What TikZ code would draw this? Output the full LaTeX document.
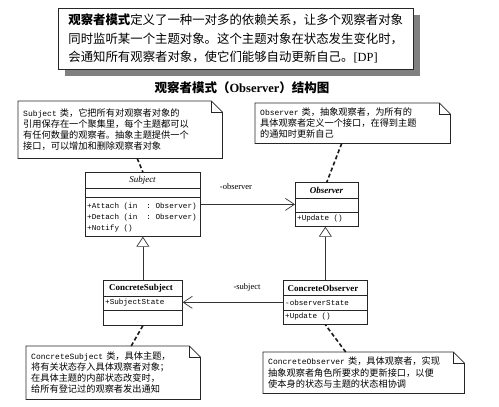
\documentclass[tikz,border=0pt]{standalone}
\usepackage{fontspec}
\setmainfont{Liberation Serif}
\setmonofont{Liberation Mono}
\newfontfamily\cjk{Noto Sans CJK SC}
\usetikzlibrary{arrows.meta}
\newcommand\drawnote[1]{%
  \draw[frame] (#1.north west) -- ([xshift=-11pt]#1.north east) -- ([yshift=-11pt]#1.north east) -- (#1.south east) -- (#1.south west) -- cycle;
  \draw[frame] ([xshift=-11pt]#1.north east) |- ([yshift=-11pt]#1.north east);}
\begin{document}
\begin{tikzpicture}[x=1pt,y=-1pt,
  frame/.style={draw=black!85, line width=0.7pt},
  classbox/.style={frame, anchor=north west, inner sep=0pt},
  notetext/.style={anchor=north west, align=left, inner xsep=5pt, inner ysep=0pt,
     font=\cjk\fontsize{9.2}{11.2}\selectfont},
  member/.style={anchor=west, inner sep=0pt, font=\ttfamily\fontsize{7.6}{9}\selectfont},
  cname/.style={inner sep=0pt, font=\bfseries\fontsize{9}{10}\selectfont},
  lbl/.style={inner sep=0pt, font=\fontsize{8.5}{10}\selectfont},
  assoc/.style={draw=black!80, line width=0.7pt},
  dashline/.style={draw=black!90, line width=1.6pt, dash pattern=on 4pt off 2.5pt},
  opentri/.style={-{Triangle[open, fill=white, length=10pt, width=13pt]}},
  openarr/.style={-{Straight Barb[length=9pt, width=12pt]}}
]
\useasboundingbox (0,0) rectangle (499,407);
% top description box with shadow
\fill[black!50] (65,15) rectangle (420,76);
\node[frame, fill=white, anchor=north west, minimum width=355pt, minimum height=61pt,
  text width=335pt, inner xsep=10pt, inner ysep=0pt, align=left,
  font=\cjk\fontsize{12.4}{18.5}\selectfont] (top) at (58,8)
  {{\bfseries 观察者模式}定义了一种一对多的依赖关系，让多个观察者对象\\
   同时监听某一个主题对象。这个主题对象在状态发生变化时，\\
   会通知所有观察者对象，使它们能够自动更新自己。{\rmfamily [DP]}};
% title
\node[inner sep=0pt, font=\cjk\bfseries\fontsize{12.5}{14}\selectfont] (title) at (242,88)
  {观察者模式（{\rmfamily\bfseries Observer}）结构图};
% notes
\node[notetext, text width=194pt, minimum height=57pt] (sn) at (18,101)
  {{\ttfamily\fontsize{8}{10}\selectfont Subject} 类，它把所有对观察者对象的\\
   引用保存在一个聚集里，每个主题都可以\\
   有任何数量的观察者。抽象主题提供一个\\
   接口，可以增加和删除观察者对象};
\drawnote{sn}
\node[notetext, text width=185pt, minimum height=40pt] (on) at (255,103)
  {{\ttfamily\fontsize{8}{10}\selectfont Observer} 类，抽象观察者，为所有的\\
   具体观察者定义一个接口，在得到主题\\
   的通知时更新自己};
\drawnote{on}
\node[notetext, text width=164pt, minimum height=53pt] (csn) at (26,346)
  {{\ttfamily\fontsize{8}{10}\selectfont ConcreteSubject} 类，具体主题，\\
   将有关状态存入具体观察者对象；\\
   在具体主题的内部状态改变时，\\
   给所有登记过的观察者发出通知};
\drawnote{csn}
\node[notetext, text width=191pt, minimum height=41pt] (con) at (263,352)
  {{\ttfamily\fontsize{8}{10}\selectfont ConcreteObserver} 类，具体观察者，实现\\
   抽象观察者角色所要求的更新接口，以便\\
   使本身的状态与主题的状态相协调};
\drawnote{con}
% Subject class
\node[classbox, minimum width=115pt, minimum height=64pt] (subj) at (85,172) {};
\draw[frame] (85,188) -- (200,188);
\draw[frame] (85,197) -- (200,197);
\node[inner sep=0pt, font=\itshape\fontsize{9}{10}\selectfont] (subjname) at (142.5,180) {Subject};
\node[member] (m1) at (87,207) {+Attach (in\ \ :\ Observer)};
\node[member] (m2) at (87,218) {+Detach (in\ \ :\ Observer)};
\node[member] (m3) at (87,229) {+Notify ()};
% Observer class
\node[classbox, minimum width=63pt, minimum height=44pt] (obs) at (295,182) {};
\draw[frame] (295,198) -- (358,198);
\draw[frame] (295,212) -- (358,212);
\node[inner sep=0pt, font=\bfseries\itshape\fontsize{9}{10}\selectfont] (obsname) at (326.5,190) {Observer};
\node[member] (m4) at (297,219) {+Update ()};
% ConcreteSubject
\node[classbox, minimum width=79pt, minimum height=45pt] (csubj) at (103,280) {};
\draw[frame] (103,296) -- (182,296);
\draw[frame] (103,310) -- (182,310);
\node[cname] (csname) at (141,288) {ConcreteSubject};
\node[member] (m5) at (105,303) {+SubjectState};
% ConcreteObserver
\node[classbox, minimum width=84pt, minimum height=44pt] (cobs) at (283,280) {};
\draw[frame] (283,295) -- (367,295);
\draw[frame] (283,310) -- (367,310);
\node[cname] (coname) at (323,288) {ConcreteObserver};
\node[member] (m6) at (285,303) {-observerState};
\node[member] (m7) at (285,317) {+Update ()};
% relations
\draw[assoc, openarr] (subj.east) -- (obs.west);
\node[lbl] (lobs) at (236,187) {-observer};
\draw[assoc, openarr] (cobs.west) -- (cobs.west -| csubj.east);
\node[lbl] (lsub) at (247,287) {-subject};
\draw[assoc, opentri] (csubj.north) -- (subj.south);
\draw[assoc, opentri] (cobs.north) -- (cobs.north |- obs.south);
% note anchors
\draw[dashline] ([xshift=17pt]sn.south) -- (subj.north);
\draw[dashline] ([xshift=-11pt]on.south) -- (obs.north);
\draw[dashline] ([xshift=18pt]csn.north) -- (csubj.south);
\draw[dashline] ([xshift=-18pt]con.north) -- (cobs.south);
\end{tikzpicture}
\end{document}
